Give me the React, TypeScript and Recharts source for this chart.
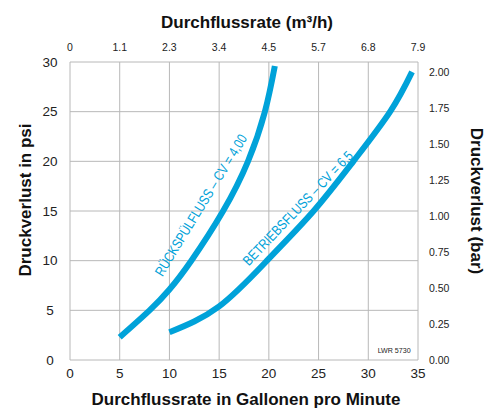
import React from 'react';
import { LineChart, Line, XAxis, YAxis, CartesianGrid, ReferenceDot, Label } from 'recharts';

// Durchflussrate (GPM) vs Druckverlust (psi)
const backwashGpm = [5, 8, 10, 12.2, 15.4, 17.9, 19.6, 20.6];
const backwashPsi = [2.3, 5, 7.1, 10, 15, 20, 25, 29.6];

const serviceGpm = [10, 15, 20, 24.5, 28.5, 32.2, 34.4];
const servicePsi = [2.8, 5.4, 10.2, 15, 20, 25, 29];

const gpmTicks = [0, 5, 10, 15, 20, 25, 30, 35];
const m3hTickLabels = ['0', '1.1', '2.3', '3.4', '4.5', '5.7', '6.8', '7.9'];
const psiTicks = [0, 5, 10, 15, 20, 25, 30];
const barTicks = [0, 0.25, 0.5, 0.75, 1, 1.25, 1.5, 1.75, 2];
const barTickLabels = ['0.00', '0.25', '0.50', '0.75', '1.00', '1.25', '1.50', '1.75', '2.00'];

const PSI_MAX = 30;
const PSI_TO_BAR = 0.0689476;

const backwashData = backwashGpm.map((gpm, i) => ({ gpm, psi: backwashPsi[i] }));
const serviceData = serviceGpm.map((gpm, i) => ({ gpm, psi: servicePsi[i] }));

const BLUE = '#00a2d9';
const FONT = '"Liberation Sans", Arial, Helvetica, sans-serif';
const NARROW = '"Liberation Sans Narrow", "Liberation Sans", Arial, sans-serif';
const titleStyle = { fontFamily: FONT, fontSize: 17, fontWeight: 700, fill: '#111' };

const curveLabel = (text: string, angle: number, length: number) => (p: any) => (
  <text
    x={p.cx}
    y={p.cy}
    transform={`rotate(${angle} ${p.cx} ${p.cy})`}
    textAnchor="middle"
    dominantBaseline="central"
    fill={BLUE}
    fontFamily={NARROW}
    fontSize={14}
    textLength={length}
    lengthAdjust="spacingAndGlyphs"
  >
    {text}
  </text>
);

const App = () => {
  return (
    <div style={{ position: 'absolute', left: 0, top: 0, width: 486, height: 410, background: '#fff' }}>
      <LineChart width={486} height={410} margin={{ top: 0, right: 0, bottom: 0, left: 0 }}>
        <CartesianGrid xAxisId="bottom" yAxisId="psi" stroke="#b8b8b8" strokeWidth={1} />
        <XAxis
          xAxisId="bottom"
          type="number"
          dataKey="gpm"
          domain={[0, 35]}
          ticks={gpmTicks}
          height={50}
          axisLine={false}
          tickLine={false}
          tick={{ fontFamily: FONT, fontSize: 13.5, fill: '#222' }}
        >
          <Label
            content={(p: any) => (
              <text x={p.viewBox.x + p.viewBox.width / 2 + 2} y={399} textAnchor="middle" dominantBaseline="central" style={titleStyle}>
                Durchflussrate in Gallonen pro Minute
              </text>
            )}
          />
        </XAxis>
        <XAxis
          xAxisId="top"
          orientation="top"
          type="number"
          dataKey="gpm"
          domain={[0, 35]}
          allowDataOverflow
          ticks={gpmTicks}
          tickFormatter={(_v: number, i: number) => m3hTickLabels[i]}
          height={62}
          tickMargin={5}
          axisLine={false}
          tickLine={false}
          tick={{ fontFamily: FONT, fontSize: 10.5, fill: '#222' }}
        >
          <Label
            content={(p: any) => (
              <text x={p.viewBox.x + p.viewBox.width / 2 + 3} y={22} textAnchor="middle" dominantBaseline="central" style={titleStyle}>
                Durchflussrate (m³/h)
              </text>
            )}
          />
        </XAxis>
        <YAxis
          yAxisId="psi"
          type="number"
          domain={[0, PSI_MAX]}
          ticks={psiTicks}
          width={70}
          tickMargin={14}
          axisLine={false}
          tickLine={false}
          tick={{ fontFamily: FONT, fontSize: 13.5, fill: '#222', textAnchor: 'middle' }}
        >
          <Label
            content={() => {
              const x = 25;
              const y = 200;
              return (
                <text x={x} y={y} transform={`rotate(-90 ${x} ${y})`} textAnchor="middle" dominantBaseline="central" style={titleStyle}>
                  Druckverlust in psi
                </text>
              );
            }}
          />
        </YAxis>
        <YAxis
          yAxisId="bar"
          orientation="right"
          type="number"
          domain={[0, PSI_MAX * PSI_TO_BAR]}
          allowDataOverflow
          ticks={barTicks}
          tickFormatter={(_v: number, i: number) => barTickLabels[i]}
          width={68}
          tickMargin={5}
          axisLine={false}
          tickLine={false}
          tick={{ fontFamily: FONT, fontSize: 10.5, fill: '#222' }}
        >
          <Label
            content={() => {
              const x = 476;
              const y = 201;
              return (
                <text x={x} y={y} transform={`rotate(90 ${x} ${y})`} textAnchor="middle" dominantBaseline="central" style={titleStyle}>
                  Druckverlust (bar)
                </text>
              );
            }}
          />
        </YAxis>

        {/* backwash curve is plotted against the top axis, which shares the 0–35 GPM domain */}
        <Line
          xAxisId="top"
          yAxisId="psi"
          data={backwashData}
          dataKey="psi"
          type="natural"
          stroke={BLUE}
          strokeWidth={6}
          dot={false}
          activeDot={false}
          isAnimationActive={false}
        />
        <Line
          xAxisId="bottom"
          yAxisId="psi"
          data={serviceData}
          dataKey="psi"
          type="natural"
          stroke={BLUE}
          strokeWidth={6}
          dot={false}
          activeDot={false}
          isAnimationActive={false}
        />

        <ReferenceDot
          xAxisId="bottom"
          yAxisId="psi"
          x={13.15}
          y={15.6}
          r={0}
          ifOverflow="visible"
          shape={curveLabel('RÜCKSPÜLFLUSS – CV = 4,00', -58.5, 163)}
        />
        <ReferenceDot
          xAxisId="bottom"
          yAxisId="psi"
          x={22.9}
          y={15.3}
          r={0}
          ifOverflow="visible"
          shape={curveLabel('BETRIEBSFLUSS – CV = 6,5', -46.3, 152)}
        />
        <ReferenceDot
          xAxisId="bottom"
          yAxisId="psi"
          x={32.6}
          y={1}
          r={0}
          ifOverflow="visible"
          shape={(p: any) => (
            <text x={p.cx} y={p.cy} textAnchor="middle" dominantBaseline="central" fill="#222" fontFamily={NARROW} fontSize={8} textLength={33} lengthAdjust="spacingAndGlyphs">
              LWR 5730
            </text>
          )}
        />
      </LineChart>
    </div>
  );
};

export default App;
